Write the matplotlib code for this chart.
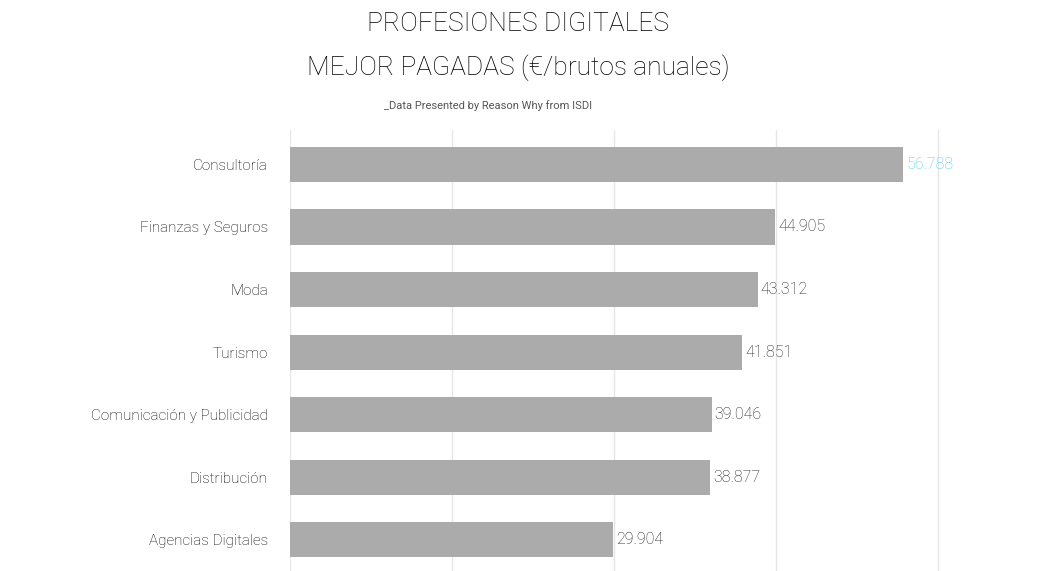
import matplotlib
matplotlib.use("Agg")
import matplotlib.pyplot as plt

categories = ["Consultoría", "Finanzas y Seguros", "Moda", "Turismo",
              "Comunicación y Publicidad", "Distribución", "Agencias Digitales"]
values = [56788, 44905, 43312, 41851, 39046, 38877, 29904]
labels = ["56.788", "44.905", "43.312", "41.851", "39.046", "38.877", "29.904"]

FONT = "Roboto"
fig = plt.figure(figsize=(10.64, 5.71), dpi=100)
ax = fig.add_axes([290 / 1064, -2 / 571, (1064 - 290) / 1064, (571 - 128) / 571])

ypos = list(range(len(categories)))
ax.barh(ypos, values, height=0.56, color="#aaabaa", zorder=2)
ax.set_ylim(len(categories) - 0.47, -0.55)
ax.set_xlim(0, 71700)
ax.set_xticks([0, 15000, 30000, 45000, 60000])
ax.set_xticklabels([])
ax.tick_params(length=0)
ax.grid(axis="x", color="#e6e6e6", linewidth=1, zorder=0)
for s in ax.spines.values():
    s.set_visible(False)
ax.set_yticks(ypos)
ax.set_yticklabels(categories, fontsize=11, family=FONT, fontweight="light")
ax.tick_params(axis="y", pad=16)

for i, (v, t) in enumerate(zip(values, labels)):
    ax.text(v + 300, i, t, va="center", ha="left", fontsize=11.5, family=FONT,
            fontweight="light", color="#5bc8f5" if i == 0 else "#222222")

fig.text(0.487, 0.958, "PROFESIONES DIGITALES", ha="center", va="center",
         fontsize=19, family=FONT, fontweight="light")
fig.text(0.487, 0.882, "MEJOR PAGADAS (€/brutos anuales)", ha="center", va="center",
         fontsize=19, family=FONT, fontweight="light")
fig.text(0.459, 0.815, "_Data Presented by Reason Why from ISDI", ha="center",
         va="center", fontsize=8, family=FONT, color="#555555")

fig.savefig("out.png", dpi=100, facecolor="white")
